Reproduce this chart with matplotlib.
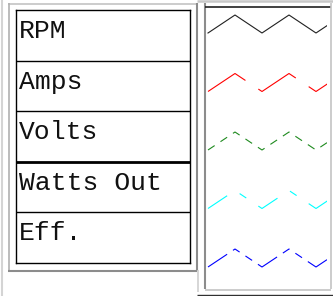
import matplotlib
matplotlib.use("Agg")
import matplotlib.pyplot as plt
from matplotlib.lines import Line2D

W, H = 333, 296

# table labels on the left
labels = ["RPM", "Amps", "Volts", "Watts Out", "Eff."]

# one zigzag per row, same values for each
zig_x = [0, 1, 2, 3, 4, 5]
zig_y = [0, 1, 0, 1, 0, 1]

line_colors = ["#202020", "#ff0000", "#1e8a1e", "#00ffff", "#0000ff"]
# dash patterns in pixels (on, off, ...); None = solid
line_dashes = [None, (45, 15.5), (8, 7), (23, 15, 8, 14.5), (23, 7, 8, 7, 8, 7)]

plt.rcParams['lines.scale_dashes'] = False


def fx(x):
    return x / W


def fy(y):
    return 1 - y / H


def hline(fig, x0, x1, y, color, lw):
    fig.add_artist(Line2D([fx(x0), fx(x1)], [fy(y), fy(y)], color=color,
                          lw=lw, transform=fig.transFigure, solid_capstyle='butt'))


def vline(fig, x, y0, y1, color, lw):
    fig.add_artist(Line2D([fx(x), fx(x)], [fy(y0), fy(y1)], color=color,
                          lw=lw, transform=fig.transFigure, solid_capstyle='butt'))


fig = plt.figure(figsize=(W / 100, H / 100), dpi=100)

# window-ish frames
vline(fig, 1.5, 0, 296, "#d4d4d4", 1.5)
hline(fig, 8, 197, 3.5, "#c4c4c4", 1.2)
vline(fig, 8.5, 3, 270, "#b0b0b0", 1.2)
vline(fig, 196.5, 3, 271, "#8c8c8c", 1.5)
hline(fig, 8, 197, 270.5, "#8c8c8c", 1.5)
hline(fig, 197, 333, 1.2, "#c8c8c8", 1.8)
vline(fig, 198, 270, 292, "#d0d0d0", 1.2)
hline(fig, 197, 333, 294.5, "#303030", 1.0)
vline(fig, 205, 3, 289, "#8c8c8c", 1.5)
hline(fig, 205, 331, 7, "#202020", 1.2)
vline(fig, 331, 3, 289, "#c4c4c4", 1.2)
hline(fig, 205, 331, 289.5, "#c4c4c4", 1.2)

# table
tx0, tx1, ty0, ty1 = 16, 190, 10, 263
tab = fig.add_axes([fx(tx0), fy(ty1), (tx1 - tx0) / W, (ty1 - ty0) / H])
tab.set_xlim(0, 1)
tab.set_ylim(len(labels), 0)
tab.set_xticks([])
tab.set_yticks([])
for s in tab.spines.values():
    s.set_linewidth(1.0)
    s.set_color("black")
for i in range(1, len(labels)):
    tab.axhline(i, color="black", lw=2.0 if i == 3 else 1.0)
for i, lab in enumerate(labels):
    tab.text(0.015, i + 0.555, lab, family="Liberation Mono", fontsize=19,
             va="baseline", ha="left", color="#111111")

# zigzag lines
ax = fig.add_axes([fx(206), fy(289), (327 - 206) / W, (289 - 7) / H])
px_x = 27.0
px_y = 18.0
ax.set_xlim(-2 / px_x, (327 - 208) / px_x)
ax.set_ylim(-(289 - 33) / px_y, 1 + (15 - 7) / px_y)
ax.axis("off")
row_step = 58.5 / px_y
for i, (c, d) in enumerate(zip(line_colors, line_dashes)):
    ys = [v - i * row_step for v in zig_y]
    ln, = ax.plot(zig_x, ys, color=c, lw=0.8)
    if d is not None:
        ln.set_dashes([v * 0.72 for v in d])

fig.savefig("out.png", dpi=100)
